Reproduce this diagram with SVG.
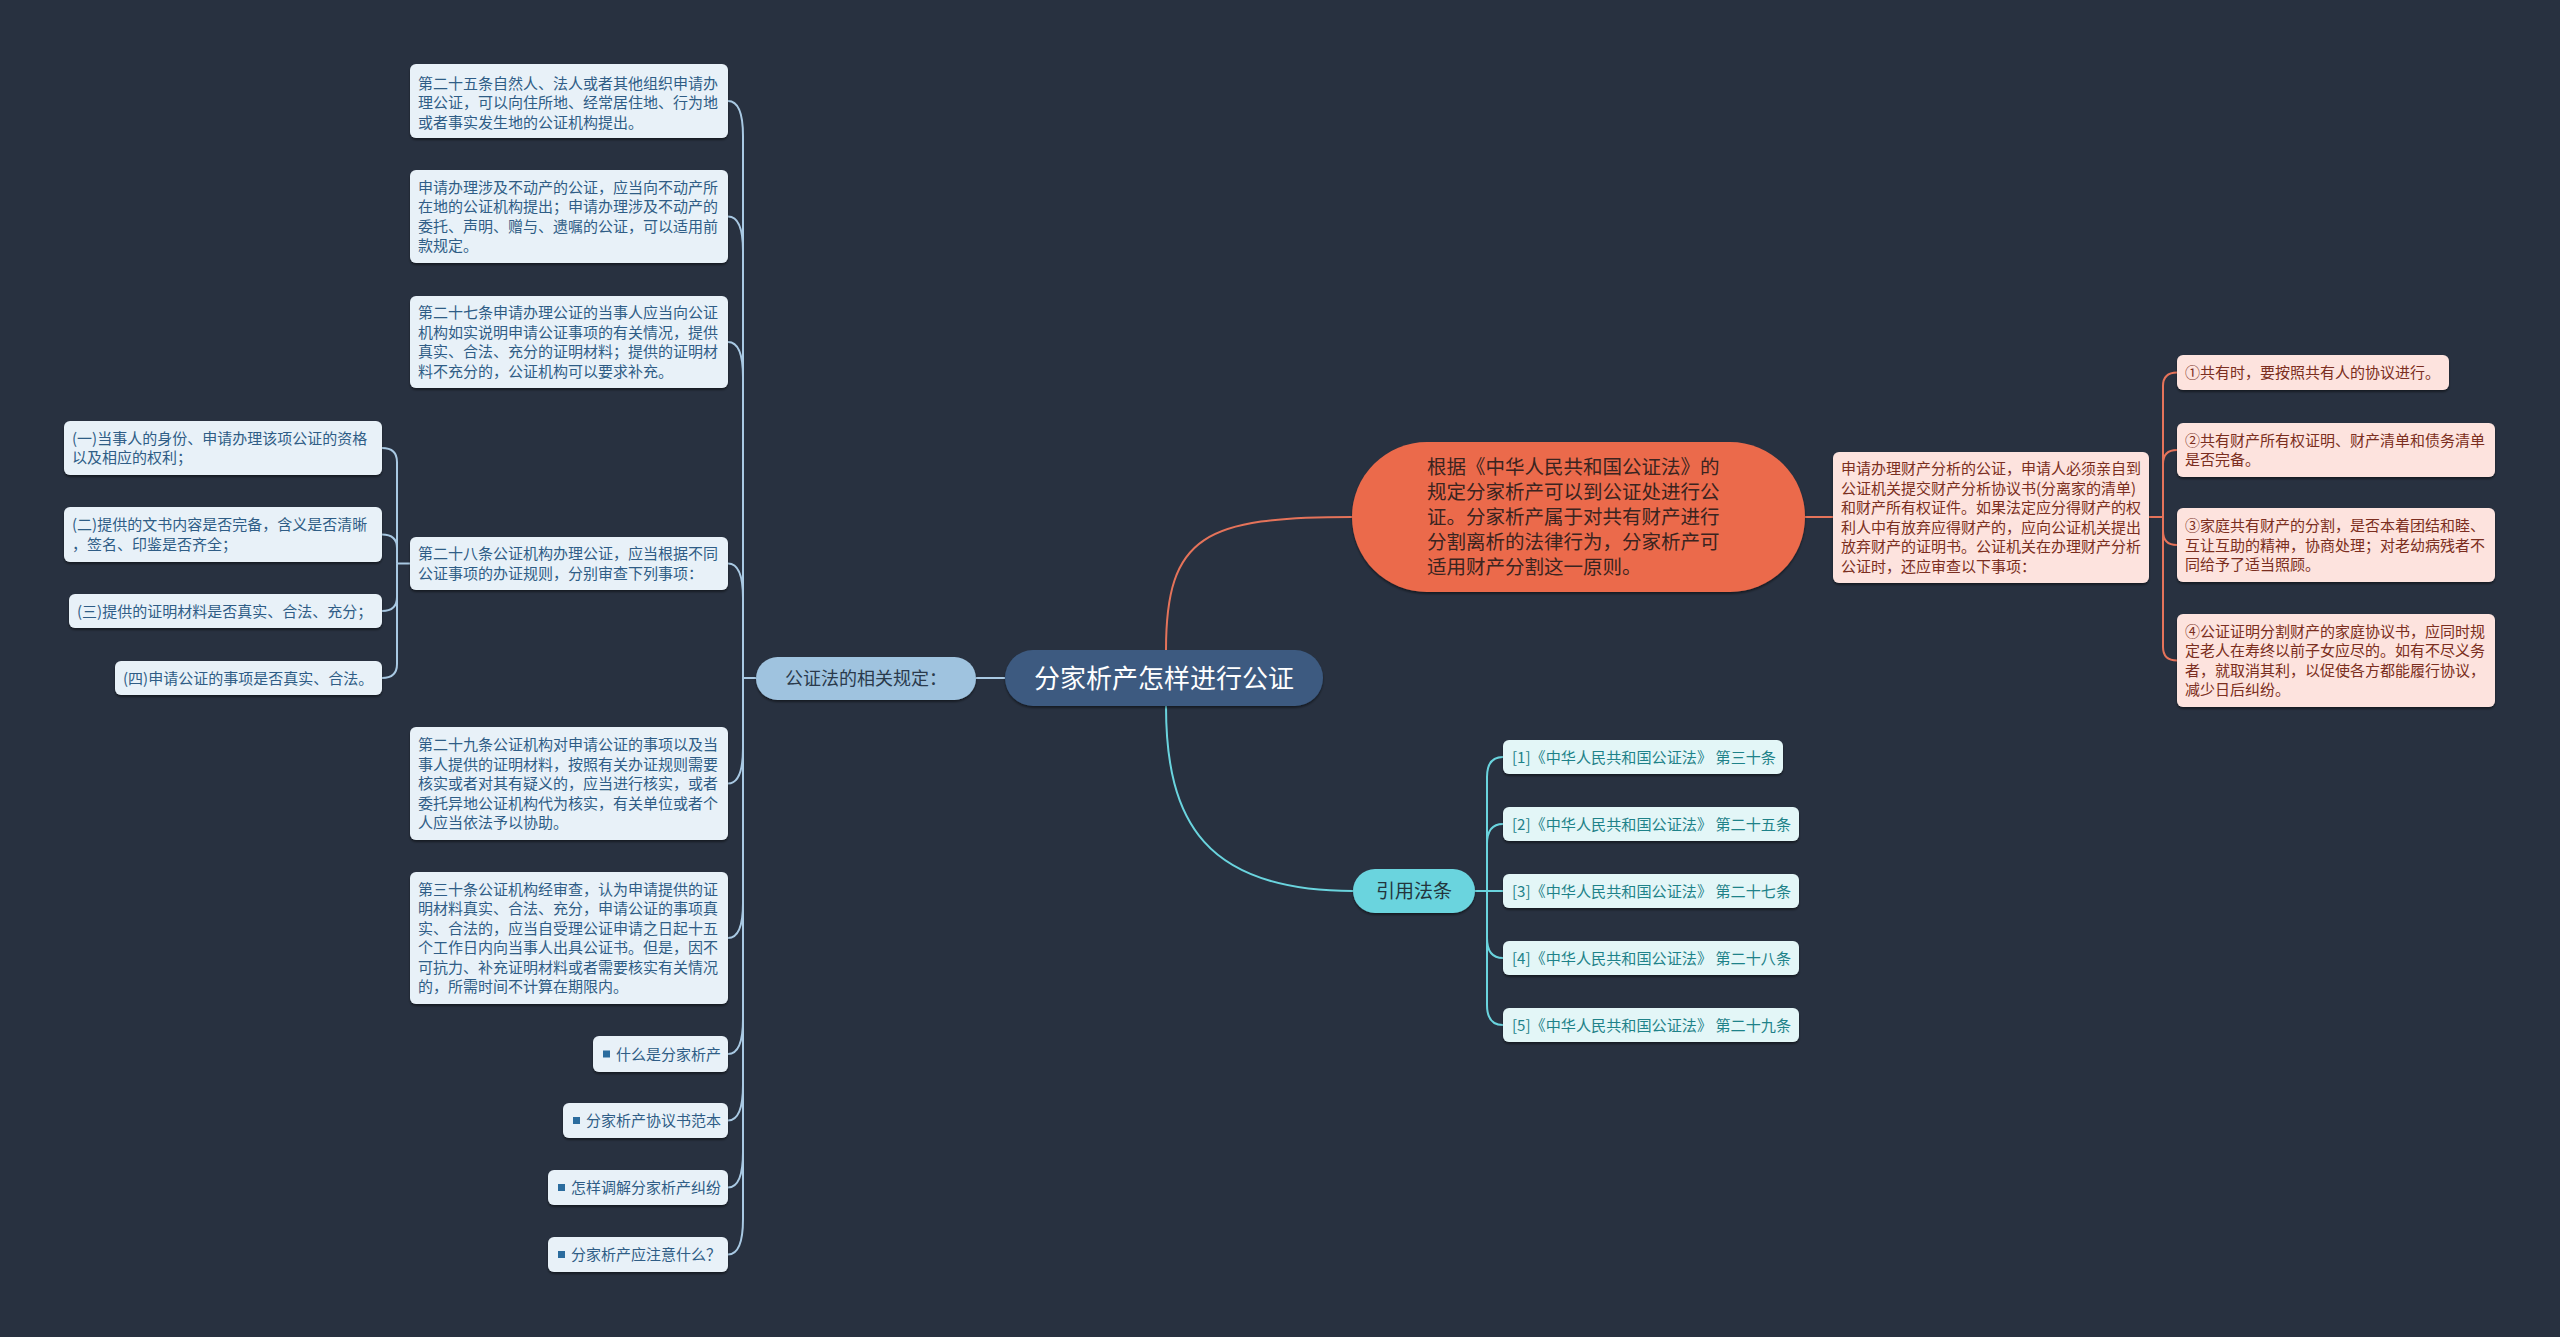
<svg xmlns="http://www.w3.org/2000/svg" width="2560" height="1337" viewBox="0 0 2560 1337">
<defs>
<filter id="sh" x="-5%" y="-10%" width="110%" height="130%">
<feDropShadow dx="0" dy="2" stdDeviation="1" flood-color="#000" flood-opacity="0.45"/>
</filter>
<style>
text{font-family:"Noto Sans CJK SC","Noto Sans",sans-serif;}
.bl rect.b{fill:#e8f1f8;filter:url(#sh);}
.bl text{font-size:15px;fill:#2f5d86;}
.pk rect.b{fill:#fde3de;filter:url(#sh);}
.pk text{font-size:15px;fill:#7b2e20;}
.cy rect.b{fill:#e3f6f7;filter:url(#sh);}
.cy text{font-size:15px;fill:#1e8289;}
.sq{fill:#2b6c9e;}
.cb{fill:none;stroke:#a9c9e3;stroke-width:2;}
.co{fill:none;stroke:#e5735a;stroke-width:2;}
.cc{fill:none;stroke:#6ad4de;stroke-width:2;}
</style>
</defs>
<rect width="2560" height="1337" fill="#283140"/>

<g id="connectors">
<path class="cb" d="M976 678 L1005 678" stroke-width="3"/>
<path class="co" d="M1166 650 C1166 535 1205 517 1352 517" stroke-width="2.5"/>
<path class="cc" d="M1166 706 C1166 821 1205 891 1353 891" stroke-width="2.5"/>
<path class="cb" d="M756 678 L743 678"/>
<path class="cb" d="M743 678 L743 136 C743 113 738 101 728 101"/>
<path class="cb" d="M743 678 L743 251 C743 228 738 216.5 728 216.5"/>
<path class="cb" d="M743 678 L743 377 C743 354 738 342 728 342"/>
<path class="cb" d="M743 678 L743 598 C743 575 738 563.5 728 563.5"/>
<path class="cb" d="M743 678 L743 748 C743 771 738 783.5 728 783.5"/>
<path class="cb" d="M743 678 L743 903 C743 926 738 938 728 938"/>
<path class="cb" d="M743 678 L743 1019 C743 1042 738 1054 728 1054"/>
<path class="cb" d="M743 678 L743 1085 C743 1108 738 1120.5 728 1120.5"/>
<path class="cb" d="M743 678 L743 1152 C743 1175 738 1187.5 728 1187.5"/>
<path class="cb" d="M743 678 L743 1219 C743 1242 738 1254.5 728 1254.5"/>
<path class="cb" d="M410 563.5 L397 563.5"/>
<path class="cb" d="M397 563.5 L397 462 Q397 448 382 448"/>
<path class="cb" d="M397 563.5 L397 548 Q397 534.5 382 534.5"/>
<path class="cb" d="M397 563.5 L397 597 Q397 611 382 611"/>
<path class="cb" d="M397 563.5 L397 664 Q397 678 382 678"/>
<path class="co" d="M1805 517 L1833 517"/>
<path class="co" d="M2149 517 L2163 517"/>
<path class="co" d="M2163 517 L2163 386 Q2163 372.5 2177 372.5"/>
<path class="co" d="M2163 517 L2163 464 Q2163 450 2177 450"/>
<path class="co" d="M2163 517 L2163 531 Q2163 545 2177 545"/>
<path class="co" d="M2163 517 L2163 647 Q2163 660.5 2177 660.5"/>
<path class="cc" d="M1475 891 L1487 891"/>
<path class="cc" d="M1487 891 L1487 777 Q1487 757 1503 757"/>
<path class="cc" d="M1487 891 L1487 844 Q1487 824 1503 824"/>
<path class="cc" d="M1487 891 L1503 891"/>
<path class="cc" d="M1487 891 L1487 938 Q1487 958 1503 958"/>
<path class="cc" d="M1487 891 L1487 1005 Q1487 1025 1503 1025"/>
</g>

<g id="root">
<rect x="1005" y="650" width="318" height="56" rx="28" fill="#3c5a80" filter="url(#sh)"/>
<text x="1164" y="687.5" font-size="26" fill="#ffffff" text-anchor="middle">分家析产怎样进行公证</text>
</g>

<g id="gzf">
<rect x="756" y="657" width="220" height="43" rx="21.5" fill="#9fc3df" filter="url(#sh)"/>
<text x="866" y="684.8" font-size="18" fill="#2a3a4c" text-anchor="middle">公证法的相关规定：</text>
</g>

<g id="n25" class="bl">
<rect class="b" x="410" y="64" width="318" height="74" rx="6"/>
<text x="418" y="88.5"><tspan x="418">第二十五条自然人、法人或者其他组织申请办</tspan><tspan x="418" dy="19.5">理公证，可以向住所地、经常居住地、行为地</tspan><tspan x="418" dy="19.5">或者事实发生地的公证机构提出。</tspan></text>
</g>
<g id="n26" class="bl">
<rect class="b" x="410" y="170" width="318" height="93" rx="6"/>
<text x="418" y="192.75"><tspan x="418">申请办理涉及不动产的公证，应当向不动产所</tspan><tspan x="418" dy="19.5">在地的公证机构提出；申请办理涉及不动产的</tspan><tspan x="418" dy="19.5">委托、声明、赠与、遗嘱的公证，可以适用前</tspan><tspan x="418" dy="19.5">款规定。</tspan></text>
</g>
<g id="n27" class="bl">
<rect class="b" x="410" y="296" width="318" height="92" rx="6"/>
<text x="418" y="318.25"><tspan x="418">第二十七条申请办理公证的当事人应当向公证</tspan><tspan x="418" dy="19.5">机构如实说明申请公证事项的有关情况，提供</tspan><tspan x="418" dy="19.5">真实、合法、充分的证明材料；提供的证明材</tspan><tspan x="418" dy="19.5">料不充分的，公证机构可以要求补充。</tspan></text>
</g>
<g id="n28" class="bl">
<rect class="b" x="410" y="537" width="318" height="53" rx="6"/>
<text x="418" y="559.25"><tspan x="418">第二十八条公证机构办理公证，应当根据不同</tspan><tspan x="418" dy="19.5">公证事项的办证规则，分别审查下列事项：</tspan></text>
</g>
<g id="n29" class="bl">
<rect class="b" x="410" y="727" width="318" height="113" rx="6"/>
<text x="418" y="750"><tspan x="418">第二十九条公证机构对申请公证的事项以及当</tspan><tspan x="418" dy="19.5">事人提供的证明材料，按照有关办证规则需要</tspan><tspan x="418" dy="19.5">核实或者对其有疑义的，应当进行核实，或者</tspan><tspan x="418" dy="19.5">委托异地公证机构代为核实，有关单位或者个</tspan><tspan x="418" dy="19.5">人应当依法予以协助。</tspan></text>
</g>
<g id="n30" class="bl">
<rect class="b" x="410" y="872" width="318" height="132" rx="6"/>
<text x="418" y="894.75"><tspan x="418">第三十条公证机构经审查，认为申请提供的证</tspan><tspan x="418" dy="19.5">明材料真实、合法、充分，申请公证的事项真</tspan><tspan x="418" dy="19.5">实、合法的，应当自受理公证申请之日起十五</tspan><tspan x="418" dy="19.5">个工作日内向当事人出具公证书。但是，因不</tspan><tspan x="418" dy="19.5">可抗力、补充证明材料或者需要核实有关情况</tspan><tspan x="418" dy="19.5">的，所需时间不计算在期限内。</tspan></text>
</g>

<g id="l1" class="bl">
<rect class="b" x="593" y="1036" width="135" height="36" rx="6"/>
<rect class="sq" x="603" y="1050.5" width="7" height="7"/>
<text x="721" y="1059.5" text-anchor="end">什么是分家析产</text>
</g>
<g id="l2" class="bl">
<rect class="b" x="563" y="1103" width="165" height="35" rx="6"/>
<rect class="sq" x="573" y="1117" width="7" height="7"/>
<text x="721" y="1126" text-anchor="end">分家析产协议书范本</text>
</g>
<g id="l3" class="bl">
<rect class="b" x="548" y="1170" width="180" height="35" rx="6"/>
<rect class="sq" x="558" y="1184" width="7" height="7"/>
<text x="721" y="1193" text-anchor="end">怎样调解分家析产纠纷</text>
</g>
<g id="l4" class="bl">
<rect class="b" x="548" y="1237" width="180" height="35" rx="6"/>
<rect class="sq" x="558" y="1251" width="7" height="7"/>
<text x="721" y="1260" text-anchor="end">分家析产应注意什么？</text>
</g>

<g id="s1" class="bl">
<rect class="b" x="64" y="421" width="318" height="54" rx="6"/>
<text x="72" y="443.75"><tspan x="72">(一)当事人的身份、申请办理该项公证的资格</tspan><tspan x="72" dy="19.5">以及相应的权利；</tspan></text>
</g>
<g id="s2" class="bl">
<rect class="b" x="64" y="507" width="318" height="55" rx="6"/>
<text x="72" y="530.25"><tspan x="72">(二)提供的文书内容是否完备，含义是否清晰</tspan><tspan x="72" dy="19.5">，签名、印鉴是否齐全；</tspan></text>
</g>
<g id="s3" class="bl">
<rect class="b" x="69" y="594" width="313" height="34" rx="6"/>
<text x="77" y="616.5">(三)提供的证明材料是否真实、合法、充分；</text>
</g>
<g id="s4" class="bl">
<rect class="b" x="115" y="661" width="267" height="34" rx="6"/>
<text x="123" y="683.5">(四)申请公证的事项是否真实、合法。</text>
</g>

<g id="gj">
<rect x="1352" y="442" width="453" height="150" rx="75" fill="#eb6b4c" filter="url(#sh)"/>
<text x="1427" y="474.4" font-size="19.5" fill="#3a2420"><tspan x="1427">根据《中华人民共和国公证法》的</tspan><tspan x="1427" dy="25">规定分家析产可以到公证处进行公</tspan><tspan x="1427" dy="25">证。分家析产属于对共有财产进行</tspan><tspan x="1427" dy="25">分割离析的法律行为，分家析产可</tspan><tspan x="1427" dy="25">适用财产分割这一原则。</tspan></text>
</g>
<g id="sq1" class="pk">
<rect class="b" x="1833" y="452" width="316" height="131" rx="6"/>
<text x="1841" y="474"><tspan x="1841">申请办理财产分析的公证，申请人必须亲自到</tspan><tspan x="1841" dy="19.6">公证机关提交财产分析协议书(分离家的清单)</tspan><tspan x="1841" dy="19.6">和财产所有权证件。如果法定应分得财产的权</tspan><tspan x="1841" dy="19.6">利人中有放弃应得财产的，应向公证机关提出</tspan><tspan x="1841" dy="19.6">放弃财产的证明书。公证机关在办理财产分析</tspan><tspan x="1841" dy="19.6">公证时，还应审查以下事项：</tspan></text>
</g>
<g id="r1" class="pk">
<rect class="b" x="2177" y="355" width="272" height="35" rx="6"/>
<text x="2185" y="378">①共有时，要按照共有人的协议进行。</text>
</g>
<g id="r2" class="pk">
<rect class="b" x="2177" y="423" width="318" height="54" rx="6"/>
<text x="2185" y="445.75"><tspan x="2185">②共有财产所有权证明、财产清单和债务清单</tspan><tspan x="2185" dy="19.5">是否完备。</tspan></text>
</g>
<g id="r3" class="pk">
<rect class="b" x="2177" y="508" width="318" height="74" rx="6"/>
<text x="2185" y="531"><tspan x="2185">③家庭共有财产的分割，是否本着团结和睦、</tspan><tspan x="2185" dy="19.5">互让互助的精神，协商处理；对老幼病残者不</tspan><tspan x="2185" dy="19.5">同给予了适当照顾。</tspan></text>
</g>
<g id="r4" class="pk">
<rect class="b" x="2177" y="614" width="318" height="93" rx="6"/>
<text x="2185" y="636.75"><tspan x="2185">④公证证明分割财产的家庭协议书，应同时规</tspan><tspan x="2185" dy="19.5">定老人在寿终以前子女应尽的。如有不尽义务</tspan><tspan x="2185" dy="19.5">者，就取消其利，以促使各方都能履行协议，</tspan><tspan x="2185" dy="19.5">减少日后纠纷。</tspan></text>
</g>

<g id="yy">
<rect x="1353" y="869" width="122" height="44" rx="22" fill="#6bd4de" filter="url(#sh)"/>
<text x="1414" y="898" font-size="19" fill="#23363d" text-anchor="middle">引用法条</text>
</g>
<g id="f1" class="cy">
<rect class="b" x="1503" y="740" width="280" height="34" rx="6"/>
<text x="1512" y="762.7" textLength="264" lengthAdjust="spacingAndGlyphs">[1]《中华人民共和国公证法》 第三十条</text>
</g>
<g id="f2" class="cy">
<rect class="b" x="1503" y="807" width="296" height="34" rx="6"/>
<text x="1512" y="829.7" textLength="279" lengthAdjust="spacingAndGlyphs">[2]《中华人民共和国公证法》 第二十五条</text>
</g>
<g id="f3" class="cy">
<rect class="b" x="1503" y="874" width="296" height="34" rx="6"/>
<text x="1512" y="896.7" textLength="279" lengthAdjust="spacingAndGlyphs">[3]《中华人民共和国公证法》 第二十七条</text>
</g>
<g id="f4" class="cy">
<rect class="b" x="1503" y="941" width="296" height="34" rx="6"/>
<text x="1512" y="963.7" textLength="279" lengthAdjust="spacingAndGlyphs">[4]《中华人民共和国公证法》 第二十八条</text>
</g>
<g id="f5" class="cy">
<rect class="b" x="1503" y="1008" width="296" height="34" rx="6"/>
<text x="1512" y="1030.7" textLength="279" lengthAdjust="spacingAndGlyphs">[5]《中华人民共和国公证法》 第二十九条</text>
</g>
</svg>
